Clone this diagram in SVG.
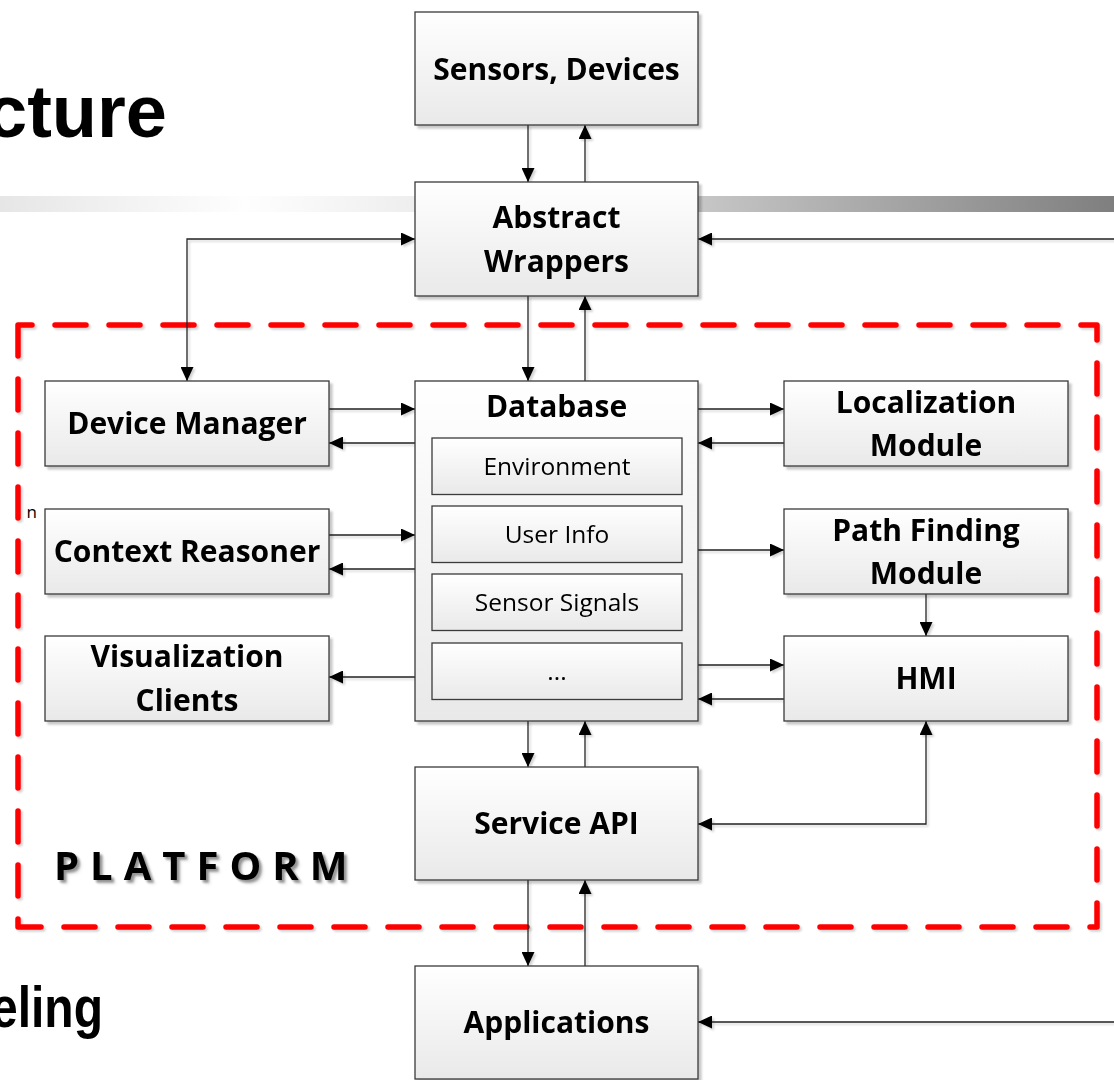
<svg xmlns="http://www.w3.org/2000/svg" width="1114" height="1080" viewBox="0 0 1114 1080">
  <defs>
    <linearGradient id="boxFill" x1="0" y1="0" x2="0" y2="1">
      <stop offset="0" stop-color="#ffffff"/>
      <stop offset="1" stop-color="#e9e9e9"/>
    </linearGradient>
    <linearGradient id="band" x1="0" y1="0" x2="1114" y2="0" gradientUnits="userSpaceOnUse">
      <stop offset="0" stop-color="#e6e6e6"/>
      <stop offset="0.22" stop-color="#fefefe"/>
      <stop offset="0.37" stop-color="#eeeeee"/>
      <stop offset="0.63" stop-color="#c6c6c6"/>
      <stop offset="1" stop-color="#7f7f7f"/>
    </linearGradient>
    <filter id="shadow" x="-5%" y="-5%" width="115%" height="115%">
      <feGaussianBlur in="SourceAlpha" stdDeviation="1"/>
      <feOffset dx="3" dy="3" result="off"/>
      <feComponentTransfer><feFuncA type="linear" slope="0.22"/></feComponentTransfer>
      <feMerge><feMergeNode/><feMergeNode in="SourceGraphic"/></feMerge>
    </filter>
    <filter id="lineShadow" x="-5%" y="-5%" width="115%" height="115%">
      <feOffset in="SourceAlpha" dx="2" dy="2"/>
      <feGaussianBlur stdDeviation="0.8"/>
      <feComponentTransfer><feFuncA type="linear" slope="0.18"/></feComponentTransfer>
      <feMerge><feMergeNode/><feMergeNode in="SourceGraphic"/></feMerge>
    </filter>
    <filter id="textShadow" x="-5%" y="-20%" width="115%" height="150%">
      <feOffset in="SourceAlpha" dx="3" dy="3"/>
      <feGaussianBlur stdDeviation="1"/>
      <feComponentTransfer><feFuncA type="linear" slope="0.3"/></feComponentTransfer>
      <feMerge><feMergeNode/><feMergeNode in="SourceGraphic"/></feMerge>
    </filter>
    <marker id="arrow" viewBox="0 0 14 13" refX="14" refY="6.5" markerWidth="14" markerHeight="13" markerUnits="userSpaceOnUse" orient="auto-start-reverse">
      <path d="M0,0 L14,6.5 L0,13 Z" fill="#000"/>
    </marker>
    <style>
      .box { fill: url(#boxFill); stroke: #3a3a3a; stroke-width: 1.3; }
      .lbl { font-family: "Open Sans", "Liberation Sans", sans-serif; font-weight: bold; font-size: 30px; fill: #000; text-anchor: middle; }
      .sub { font-family: "Open Sans", "Liberation Sans", sans-serif; font-size: 24.5px; fill: #000; text-anchor: middle; }
      .title { font-family: "Liberation Sans", Arial, sans-serif; font-weight: bold; fill: #000; }
      .conn { fill: none; stroke: #222; stroke-width: 1.3; }
      .arr { marker-end: url(#arrow); }
      .both { marker-start: url(#arrow); marker-end: url(#arrow); }
    </style>
  </defs>

  <rect width="1114" height="1080" fill="#ffffff"/>

  <!-- slide header band and clipped slide titles -->
  <rect x="0" y="196" width="1114" height="16" fill="url(#band)"/>
  <text class="title" x="167" y="137" font-size="74" text-anchor="end">cture</text>
  <text class="title" x="-9" y="1027" font-size="57" textLength="112" lengthAdjust="spacingAndGlyphs">eling</text>
  <text x="37" y="518" font-family="'Open Sans', 'Liberation Sans', sans-serif" font-size="17" text-anchor="end" fill="#000">n</text>

  <!-- platform boundary -->
  <g id="platform" filter="url(#lineShadow)">
    <path d="M18,325 L18,927 L1097,927 L1097,325 Z" fill="none" stroke="#ff0000" stroke-width="5.5" stroke-linecap="round" stroke-linejoin="round" stroke-dasharray="31 23"/>
    <text x="54" y="880" font-family="'Open Sans', 'Liberation Sans', sans-serif" font-weight="bold" font-size="40" letter-spacing="11" fill="#000" filter="url(#textShadow)">PLATFORM</text>
  </g>

  <!-- connectors -->
  <g id="connectors" class="conn" filter="url(#lineShadow)">
    <!-- Sensors / Abstract Wrappers -->
    <line class="arr" x1="528" y1="125" x2="528" y2="182"/>
    <line class="arr" x1="585" y1="182" x2="585" y2="125"/>
    <!-- Abstract Wrappers / Database -->
    <line class="arr" x1="528" y1="296" x2="528" y2="381"/>
    <line class="arr" x1="585" y1="381" x2="585" y2="296"/>
    <!-- Device Manager / Abstract Wrappers -->
    <polyline class="both" points="187,381 187,239 415,239"/>
    <!-- external input to Abstract Wrappers -->
    <line class="arr" x1="1114" y1="239" x2="698" y2="239"/>
    <!-- Device Manager / Database -->
    <line class="arr" x1="329" y1="409" x2="415" y2="409"/>
    <line class="arr" x1="415" y1="443" x2="329" y2="443"/>
    <!-- Context Reasoner / Database -->
    <line class="arr" x1="329" y1="535" x2="415" y2="535"/>
    <line class="arr" x1="415" y1="569" x2="329" y2="569"/>
    <!-- Database to Visualization Clients -->
    <line class="arr" x1="415" y1="677" x2="329" y2="677"/>
    <!-- Database / Localization Module -->
    <line class="arr" x1="698" y1="409" x2="784" y2="409"/>
    <line class="arr" x1="784" y1="443" x2="698" y2="443"/>
    <!-- Database to Path Finding Module -->
    <line class="arr" x1="698" y1="550" x2="784" y2="550"/>
    <!-- Path Finding Module to HMI -->
    <line class="arr" x1="926" y1="594" x2="926" y2="636"/>
    <!-- Database / HMI -->
    <line class="arr" x1="698" y1="665" x2="784" y2="665"/>
    <line class="arr" x1="784" y1="699" x2="698" y2="699"/>
    <!-- HMI / Service API -->
    <polyline class="both" points="926,721 926,824 698,824"/>
    <!-- Database / Service API -->
    <line class="arr" x1="528" y1="721" x2="528" y2="767"/>
    <line class="arr" x1="585" y1="767" x2="585" y2="721"/>
    <!-- Service API / Applications -->
    <line class="arr" x1="528" y1="880" x2="528" y2="966"/>
    <line class="arr" x1="585" y1="966" x2="585" y2="880"/>
    <!-- external input to Applications -->
    <line class="arr" x1="1114" y1="1022" x2="698" y2="1022"/>
  </g>

  <!-- nodes -->
  <g id="sensors" filter="url(#shadow)">
    <rect class="box" x="415" y="12" width="283" height="113"/>
    <text class="lbl" x="556.5" y="80">Sensors, Devices</text>
  </g>
  <g id="abstract-wrappers" filter="url(#shadow)">
    <rect class="box" x="415" y="182" width="283" height="114"/>
    <text class="lbl" x="556.5" y="228">Abstract</text>
    <text class="lbl" x="556.5" y="272">Wrappers</text>
  </g>
  <g id="device-manager" filter="url(#shadow)">
    <rect class="box" x="45" y="381" width="284" height="85"/>
    <text class="lbl" x="187" y="434">Device Manager</text>
  </g>
  <g id="context-reasoner" filter="url(#shadow)">
    <rect class="box" x="45" y="509" width="284" height="85"/>
    <text class="lbl" x="187" y="562">Context Reasoner</text>
  </g>
  <g id="visualization-clients" filter="url(#shadow)">
    <rect class="box" x="45" y="636" width="284" height="85"/>
    <text class="lbl" x="187" y="667">Visualization</text>
    <text class="lbl" x="187" y="711">Clients</text>
  </g>
  <g id="database" filter="url(#shadow)">
    <rect class="box" x="415" y="381" width="283" height="340"/>
    <text class="lbl" x="556.5" y="417">Database</text>
    <rect class="box" x="432" y="438" width="250" height="56.5"/>
    <text class="sub" x="557" y="475">Environment</text>
    <rect class="box" x="432" y="506" width="250" height="56.5"/>
    <text class="sub" x="557" y="543">User Info</text>
    <rect class="box" x="432" y="574" width="250" height="56.5"/>
    <text class="sub" x="557" y="611">Sensor Signals</text>
    <rect class="box" x="432" y="643" width="250" height="56.5"/>
    <text class="sub" x="557" y="680">...</text>
  </g>
  <g id="localization" filter="url(#shadow)">
    <rect class="box" x="784" y="381" width="284" height="85"/>
    <text class="lbl" x="926" y="413">Localization</text>
    <text class="lbl" x="926" y="456">Module</text>
  </g>
  <g id="path-finding" filter="url(#shadow)">
    <rect class="box" x="784" y="509" width="284" height="85"/>
    <text class="lbl" x="926" y="541">Path Finding</text>
    <text class="lbl" x="926" y="584">Module</text>
  </g>
  <g id="hmi" filter="url(#shadow)">
    <rect class="box" x="784" y="636" width="284" height="85"/>
    <text class="lbl" x="926" y="689">HMI</text>
  </g>
  <g id="service-api" filter="url(#shadow)">
    <rect class="box" x="415" y="767" width="283" height="113"/>
    <text class="lbl" x="556.5" y="834">Service API</text>
  </g>
  <g id="applications" filter="url(#shadow)">
    <rect class="box" x="415" y="966" width="283" height="113"/>
    <text class="lbl" x="556.5" y="1033">Applications</text>
  </g>
</svg>
